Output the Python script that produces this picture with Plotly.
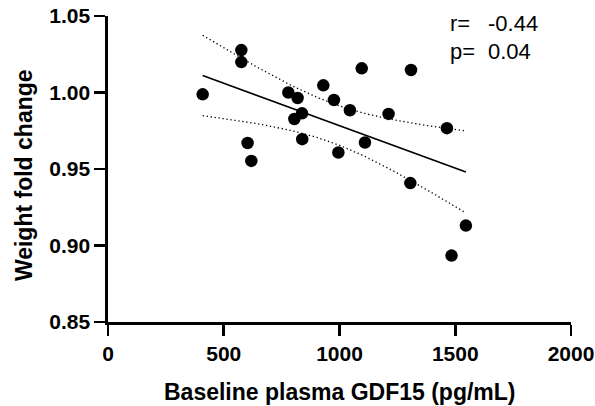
import numpy as np
import plotly.graph_objects as go

# Data
gdf15 = [409, 576, 576, 603, 619, 779, 819, 838, 805, 839, 930, 976,
         1045, 995, 1096, 1309, 1212, 1464, 1110, 1306, 1546, 1484]
weight_fc = [0.9988, 1.0277, 1.0199, 0.9670, 0.9553, 1.0000, 0.9964, 0.9864,
             0.9827, 0.9695, 1.0047, 0.9951, 0.9884, 0.9608, 1.0158, 1.0147,
             0.9860, 0.9767, 0.9673, 0.9408, 0.9130, 0.8934]
x_ticks = [0, 500, 1000, 1500, 2000]
y_ticks = [0.85, 0.90, 0.95, 1.00, 1.05]
stat_labels = ["r=", "p="]
stat_values = ["-0.44", "0.04"]

x = np.array(gdf15, dtype=float)
y = np.array(weight_fc, dtype=float)
n = len(x)
slope, intercept = np.polyfit(x, y, 1)
xs = np.linspace(x.min(), x.max(), 100)
fit = intercept + slope * xs
resid = y - (intercept + slope * x)
s = np.sqrt(np.sum(resid ** 2) / (n - 2))
sxx = np.sum((x - x.mean()) ** 2)
t_crit = 2.086  # t(0.975, df=20)
half = t_crit * s * np.sqrt(1.0 / n + (xs - x.mean()) ** 2 / sxx)

FONT = "Arial, Liberation Sans, Helvetica, sans-serif"

fig = go.Figure()
fig.add_trace(go.Scatter(x=xs, y=fit + half, mode="lines",
                         line=dict(color="black", width=1.3, dash="1.3px,2.7px"),
                         hoverinfo="skip", showlegend=False))
fig.add_trace(go.Scatter(x=xs, y=fit - half, mode="lines",
                         line=dict(color="black", width=1.3, dash="1.3px,2.7px"),
                         hoverinfo="skip", showlegend=False))
fig.add_trace(go.Scatter(x=xs, y=fit, mode="lines",
                         line=dict(color="black", width=1.6),
                         hoverinfo="skip", showlegend=False))
fig.add_trace(go.Scatter(x=gdf15, y=weight_fc, mode="markers",
                         marker=dict(color="black", size=12.5, line=dict(width=0)),
                         showlegend=False))

axis_common = dict(showgrid=False, zeroline=False, showline=True, linecolor="black",
                   linewidth=2.6, ticks="outside", ticklen=11, tickwidth=2.6,
                   tickcolor="black", mirror=False, automargin=False,
                   ticklabeloverflow="allow",
                   tickfont=dict(family=FONT, size=21, color="black", weight="bold"))

fig.update_xaxes(range=[0, 2000], tickvals=x_ticks,
                 ticktext=[str(v) for v in x_ticks], **axis_common)
fig.update_yaxes(range=[0.85, 1.05], tickvals=y_ticks,
                 ticktext=[f"{v:.2f}" for v in y_ticks], **axis_common)

fig.add_annotation(xref="paper", yref="paper", x=0.5, y=0, yshift=-55,
                   xanchor="center", yanchor="top", showarrow=False,
                   text="Baseline plasma GDF15 (pg/mL)",
                   font=dict(family=FONT, size=23, color="black", weight="bold"))
fig.add_annotation(xref="paper", yref="paper", x=0, y=0.48, xshift=-84,
                   xanchor="center", yanchor="middle", showarrow=False,
                   textangle=-90, text="Weight fold change",
                   font=dict(family=FONT, size=23, color="black", weight="bold"))

for i, (lab, val) in enumerate(zip(stat_labels, stat_values)):
    ys = -7 - 28 * i
    fig.add_annotation(xref="paper", yref="paper", x=0, y=1, xshift=340, yshift=ys,
                       xanchor="left", yanchor="middle", showarrow=False,
                       text=lab, font=dict(family=FONT, size=22, color="black"))
    fig.add_annotation(xref="paper", yref="paper", x=0, y=1, xshift=378, yshift=ys,
                       xanchor="left", yanchor="middle", showarrow=False,
                       text=val, font=dict(family=FONT, size=22, color="black"))

fig.update_layout(width=595, height=406,
                  margin=dict(l=108, r=24, t=16, b=84),
                  plot_bgcolor="white", paper_bgcolor="white",
                  hovermode=False)

# remove the browser's default 8px body margin so the figure fills the window
fig.write_html("out.html",
               config={"displayModeBar": False, "staticPlot": True},
               post_script="document.body.style.margin='0';document.body.style.overflow='hidden';")
